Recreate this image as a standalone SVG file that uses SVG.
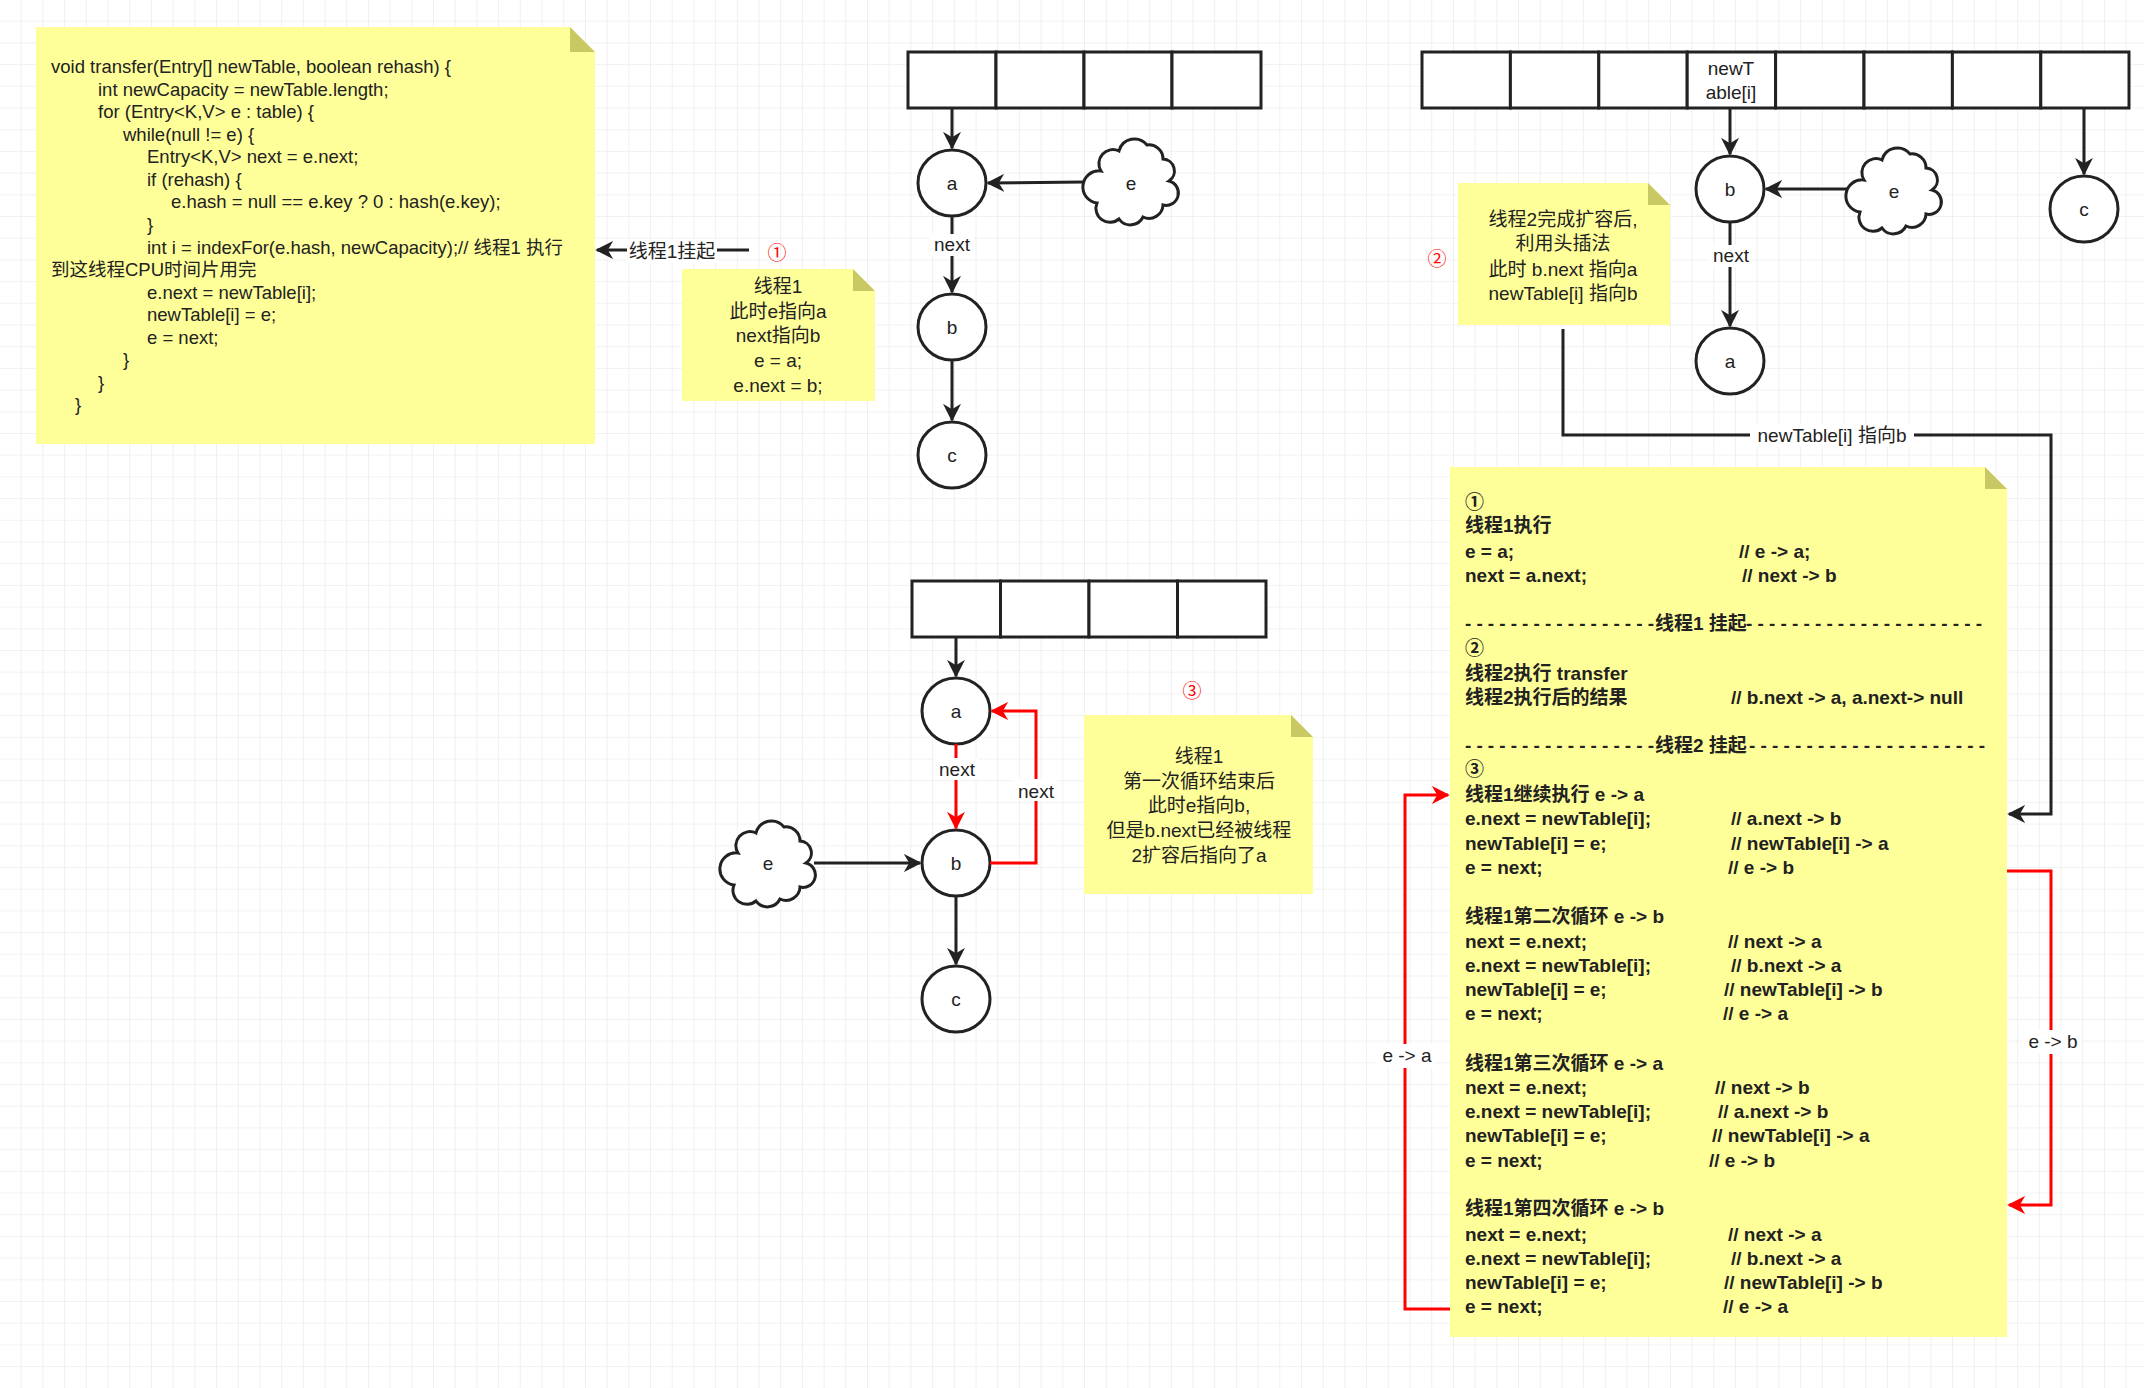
<svg xmlns="http://www.w3.org/2000/svg" width="2144" height="1388" viewBox="0 0 2144 1388">
<defs>
<pattern id="grid" width="21.7" height="21.7" patternUnits="userSpaceOnUse">
<path d="M21.7 0V21.7H0" fill="none" stroke="#e6e6e6" stroke-width="1.2"/>
</pattern>
<marker id="ab" viewBox="0 0 10 10" refX="9" refY="5" markerWidth="18" markerHeight="18" orient="auto" markerUnits="userSpaceOnUse"><path d="M0 0L10 5L0 10L3 5Z" fill="#222"/></marker>
<marker id="ar" viewBox="0 0 10 10" refX="9" refY="5" markerWidth="18" markerHeight="18" orient="auto" markerUnits="userSpaceOnUse"><path d="M0 0L10 5L0 10L3 5Z" fill="#f00"/></marker>
<path id="cloud" d="M-30,-12 a14,14 0 0 1 18,-20 a16,16 0 0 1 28,-6 a14,14 0 0 1 16,14 a12,12 0 0 1 6,22 a12,12 0 0 1 -6,24 a14,14 0 0 1 -20,12 a14,14 0 0 1 -24,2 a14,14 0 0 1 -22,-16 a14,14 0 0 1 4,-32 Z"/>
</defs>
<style>
text{font-family:"Liberation Sans","Noto Sans CJK SC",sans-serif;fill:#222}
.n{fill:#ffff99}
.f{fill:#c8c864}
.ln{fill:none;stroke:#222;stroke-width:3}
.rd{fill:none;stroke:#f00;stroke-width:3}
.nd{fill:#fff;stroke:#222;stroke-width:3}
.cell{fill:#fff;stroke:#222;stroke-width:3}
.c{font-size:18.5px}
.m{font-size:19px;text-anchor:middle}
.b{font-size:19px;font-weight:bold}
.red{fill:#f00;font-size:19px;text-anchor:middle}
.lb{fill:#fff}
</style>
<rect width="2144" height="1388" fill="#fff"/>
<rect width="2144" height="1388" fill="url(#grid)"/>

<g id="code-note">
<path class="n" d="M36 27H570L595 52V444H36Z"/><path class="f" d="M570 27L595 52H570Z"/>
<text class="c" x="51" y="73">void transfer(Entry[] newTable, boolean rehash) {</text>
<text class="c" x="98" y="96">int newCapacity = newTable.length;</text>
<text class="c" x="98" y="118">for (Entry&lt;K,V&gt; e : table) {</text>
<text class="c" x="123" y="141">while(null != e) {</text>
<text class="c" x="147" y="163">Entry&lt;K,V&gt; next = e.next;</text>
<text class="c" x="147" y="186">if (rehash) {</text>
<text class="c" x="171" y="208">e.hash = null == e.key ? 0 : hash(e.key);</text>
<text class="c" x="147" y="231">}</text>
<text class="c" x="147" y="254">int i = indexFor(e.hash, newCapacity);// 线程1 执行</text>
<text class="c" x="51" y="276">到这线程CPU时间片用完</text>
<text class="c" x="147" y="299">e.next = newTable[i];</text>
<text class="c" x="147" y="321">newTable[i] = e;</text>
<text class="c" x="147" y="344">e = next;</text>
<text class="c" x="123" y="366">}</text>
<text class="c" x="98" y="389">}</text>
<text class="c" x="75" y="411">}</text>
</g>

<g id="note1">
<path class="n" d="M682 269H853L875 291V401H682Z"/><path class="f" d="M853 269L875 291H853Z"/>
<text class="m" x="778" y="293">线程1</text>
<text class="m" x="778" y="318">此时e指向a</text>
<text class="m" x="778" y="342">next指向b</text>
<text class="m" x="778" y="367">e = a;</text>
<text class="m" x="778" y="392">e.next = b;</text>
<text class="red" x="777" y="260">①</text>
</g>

<g id="table1">
<rect class="cell" x="908" y="52" width="88" height="56"/><rect class="cell" x="996" y="52" width="88" height="56"/><rect class="cell" x="1084" y="52" width="88" height="56"/><rect class="cell" x="1172" y="52" width="89" height="56"/>
</g>
<g id="t1a"><ellipse class="nd" cx="952" cy="183" rx="34" ry="33"/><text class="m" x="952" y="190">a</text></g>
<g id="t1b"><ellipse class="nd" cx="952" cy="327" rx="34" ry="33"/><text class="m" x="952" y="334">b</text></g>
<g id="t1c"><ellipse class="nd" cx="952" cy="455" rx="34" ry="33"/><text class="m" x="952" y="462">c</text></g>
<g id="t1e"><use href="#cloud" transform="translate(1131,183)" class="nd"/><text class="m" x="1131" y="190">e</text></g>

<g id="table2">
<rect class="cell" x="1422" y="52" width="88.4" height="56"/><rect class="cell" x="1510.4" y="52" width="88.4" height="56"/><rect class="cell" x="1598.8" y="52" width="88.4" height="56"/><rect class="cell" x="1687.2" y="52" width="88.4" height="56"/><rect class="cell" x="1775.6" y="52" width="88.4" height="56"/><rect class="cell" x="1864" y="52" width="88.4" height="56"/><rect class="cell" x="1952.4" y="52" width="88.4" height="56"/><rect class="cell" x="2040.8" y="52" width="88.2" height="56"/>
<text class="m" x="1731" y="75">newT</text><text class="m" x="1731" y="99">able[i]</text>
</g>
<g id="t2b"><ellipse class="nd" cx="1730" cy="189" rx="34" ry="33"/><text class="m" x="1730" y="196">b</text></g>
<g id="t2a"><ellipse class="nd" cx="1730" cy="361" rx="34" ry="33"/><text class="m" x="1730" y="368">a</text></g>
<g id="t2c"><ellipse class="nd" cx="2084" cy="209" rx="34" ry="33"/><text class="m" x="2084" y="216">c</text></g>
<g id="t2e"><use href="#cloud" transform="translate(1894,192)" class="nd"/><text class="m" x="1894" y="198">e</text></g>

<g id="note2">
<path class="n" d="M1458 183H1648L1670 205V325H1458Z"/><path class="f" d="M1648 183L1670 205H1648Z"/>
<text class="m" x="1563" y="226">线程2完成扩容后,</text>
<text class="m" x="1563" y="250">利用头插法</text>
<text class="m" x="1563" y="276">此时 b.next 指向a</text>
<text class="m" x="1563" y="300">newTable[i] 指向b</text>
<text class="red" x="1437" y="266">②</text>
</g>

<g id="table3">
<rect class="cell" x="912" y="581" width="88.5" height="56"/><rect class="cell" x="1000.5" y="581" width="88.5" height="56"/><rect class="cell" x="1089" y="581" width="88.5" height="56"/><rect class="cell" x="1177.5" y="581" width="88.5" height="56"/>
</g>
<g id="t3a"><ellipse class="nd" cx="956" cy="711" rx="34" ry="33"/><text class="m" x="956" y="718">a</text></g>
<g id="t3b"><ellipse class="nd" cx="956" cy="863" rx="34" ry="33"/><text class="m" x="956" y="870">b</text></g>
<g id="t3c"><ellipse class="nd" cx="956" cy="999" rx="34" ry="33"/><text class="m" x="956" y="1006">c</text></g>
<g id="t3e"><use href="#cloud" transform="translate(768,865)" class="nd"/><text class="m" x="768" y="870">e</text></g>

<g id="note3">
<path class="n" d="M1084 715H1291L1313 737V894H1084Z"/><path class="f" d="M1291 715L1313 737H1291Z"/>
<text class="m" x="1199" y="763">线程1</text>
<text class="m" x="1199" y="788">第一次循环结束后</text>
<text class="m" x="1199" y="812">此时e指向b,</text>
<text class="m" x="1199" y="837">但是b.next已经被线程</text>
<text class="m" x="1199" y="862">2扩容后指向了a</text>
<text class="red" x="1192" y="698">③</text>
</g>

<g id="big-note">
<path class="n" d="M1450 467H1985L2007 489V1337H1450Z"/><path class="f" d="M1985 467L2007 489H1985Z"/>
<g class="b">
<text x="1465" y="509">①</text>
<text x="1465" y="532">线程1执行</text>
<text x="1465" y="558">e = a;</text><text x="1739" y="558">// e -&gt; a;</text>
<text x="1465" y="582">next = a.next;</text><text x="1742" y="582">// next -&gt; b</text>
<text y="630"><tspan x="1465" textLength="189" lengthAdjust="spacing">-----------------</tspan><tspan x="1655">线程1 挂起</tspan><tspan x="1746" textLength="236" lengthAdjust="spacing">---------------------</tspan></text>
<text x="1465" y="655">②</text>
<text x="1465" y="680">线程2执行 transfer</text>
<text x="1465" y="704">线程2执行后的结果</text><text x="1731" y="704">// b.next -&gt; a, a.next-&gt; null</text>
<text y="752"><tspan x="1465" textLength="189" lengthAdjust="spacing">-----------------</tspan><tspan x="1655">线程2 挂起</tspan><tspan x="1749" textLength="236" lengthAdjust="spacing">---------------------</tspan></text>
<text x="1465" y="776">③</text>
<text x="1465" y="801">线程1继续执行  e -&gt; a</text>
<text x="1465" y="825">e.next = newTable[i];</text><text x="1731" y="825">// a.next -&gt; b</text>
<text x="1465" y="850">newTable[i] = e;</text><text x="1731" y="850">// newTable[i] -&gt; a</text>
<text x="1465" y="874">e = next;</text><text x="1728" y="874">// e -&gt; b</text>
<text x="1465" y="923">线程1第二次循环 e -&gt; b</text>
<text x="1465" y="948">next = e.next;</text><text x="1728" y="948">// next -&gt; a</text>
<text x="1465" y="972">e.next = newTable[i];</text><text x="1731" y="972">// b.next -&gt; a</text>
<text x="1465" y="996">newTable[i] = e;</text><text x="1724" y="996">// newTable[i] -&gt; b</text>
<text x="1465" y="1020">e = next;</text><text x="1723" y="1020">// e -&gt; a</text>
<text x="1465" y="1070">线程1第三次循环 e -&gt; a</text>
<text x="1465" y="1094">next = e.next;</text><text x="1715" y="1094">// next -&gt; b</text>
<text x="1465" y="1118">e.next = newTable[i];</text><text x="1718" y="1118">// a.next -&gt; b</text>
<text x="1465" y="1142">newTable[i] = e;</text><text x="1712" y="1142">// newTable[i] -&gt; a</text>
<text x="1465" y="1167">e = next;</text><text x="1709" y="1167">// e -&gt; b</text>
<text x="1465" y="1215">线程1第四次循环 e -&gt; b</text>
<text x="1465" y="1241">next = e.next;</text><text x="1728" y="1241">// next -&gt; a</text>
<text x="1465" y="1265">e.next = newTable[i];</text><text x="1731" y="1265">// b.next -&gt; a</text>
<text x="1465" y="1289">newTable[i] = e;</text><text x="1724" y="1289">// newTable[i] -&gt; b</text>
<text x="1465" y="1313">e = next;</text><text x="1723" y="1313">// e -&gt; a</text>
</g>
</g>

<g id="connectors">
<path class="ln" d="M952 108V148" marker-end="url(#ab)"/>
<path class="ln" d="M952 216V292" marker-end="url(#ab)"/>
<rect class="lb" x="930" y="234" width="44" height="22"/><text class="m" x="952" y="251">next</text>
<path class="ln" d="M952 360V420" marker-end="url(#ab)"/>
<path class="ln" d="M1084 182L988 183" marker-end="url(#ab)"/>
<path class="ln" d="M749 250H597" marker-end="url(#ab)"/>
<rect class="lb" x="627" y="239" width="90" height="24"/><text class="m" x="672" y="258">线程1挂起</text>

<path class="ln" d="M1730 108V154" marker-end="url(#ab)"/>
<path class="ln" d="M1730 222V326" marker-end="url(#ab)"/>
<rect class="lb" x="1708" y="245" width="44" height="22"/><text class="m" x="1731" y="262">next</text>
<path class="ln" d="M2084 108V174" marker-end="url(#ab)"/>
<path class="ln" d="M1848 189H1766" marker-end="url(#ab)"/>
<path class="ln" d="M1563 329V435H2051V814H2009" marker-end="url(#ab)"/>
<rect class="lb" x="1750" y="423" width="164" height="24"/><text class="m" x="1832" y="442">newTable[i] 指向b</text>

<path class="ln" d="M956 637V676" marker-end="url(#ab)"/>
<path class="rd" d="M956 744V828" marker-end="url(#ar)"/>
<rect class="lb" x="934" y="758" width="44" height="22"/><text class="m" x="957" y="776">next</text>
<path class="rd" d="M990 863H1036V711H992" marker-end="url(#ar)"/>
<rect class="lb" x="1013" y="779" width="44" height="22"/><text class="m" x="1036" y="798">next</text>
<path class="ln" d="M814 863H920" marker-end="url(#ab)"/>
<path class="ln" d="M956 896V964" marker-end="url(#ab)"/>

<path class="rd" d="M1450 1309H1405V795H1448" marker-end="url(#ar)"/>
<rect class="lb" x="1376" y="1044" width="58" height="24"/><text class="m" x="1407" y="1062">e -&gt; a</text>
<path class="rd" d="M2007 871H2051V1205H2009" marker-end="url(#ar)"/>
<rect class="lb" x="2022" y="1030" width="60" height="24"/><text class="m" x="2053" y="1048">e -&gt; b</text>
</g>
</svg>
